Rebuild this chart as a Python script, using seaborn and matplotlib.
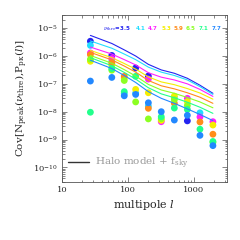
"""Peak-count / power-spectrum cross covariance vs multipole."""

import matplotlib
matplotlib.use("Agg")
import matplotlib.pyplot as plt
import numpy as np
import pandas as pd
import seaborn as sns
from matplotlib.lines import Line2D

NU_THRE = ["3.5", "4.1", "4.7", "5.3", "5.9", "6.5", "7.1", "7.7"]
COLORS = ["#2424f0", "#22ddff", "#ff22ff", "#f5ee00",
          "#ff8c1a", "#8cff22", "#22ff8c", "#2288ff"]

# multipole bin centres (points) and log10 of covariance; nan = not shown
ELL = [27, 57, 88, 131, 204, 320, 505, 795, 1235, 1940]
nan = np.nan
LOG_COV_POINTS = {
    "3.5": [-5.47, -5.98, nan, -6.43, -6.72, nan, nan, -8.33, nan, nan],
    "4.1": [-5.62, -6.20, -7.35, -7.33, -7.80, nan, -7.49, nan, -8.04, nan],
    "4.7": [-5.89, -6.09, nan, nan, -6.83, -8.36, nan, -7.52, -8.19, -8.36],
    "5.3": [-6.19, -6.33, -6.80, -7.20, -7.32, -8.31, -7.44, -7.64, nan, -8.48],
    "5.9": [-5.95, -6.25, -6.73, nan, -7.88, nan, -7.70, nan, -8.37, -8.81],
    "6.5": [-6.12, -6.51, -6.88, -7.65, -8.26, -8.25, -7.57, -7.78, nan, -9.10],
    "7.1": [-8.02, -6.45, -7.28, -6.73, nan, -8.18, -7.87, -7.92, -8.63, -9.07],
    "7.7": [-6.90, -6.77, -7.43, -7.38, -7.68, -8.00, -8.30, -8.13, -8.85, -9.22],
}
# halo model + f_sky curves, log10 at the same multipoles
LOG_COV_MODEL = {
    "3.5": [-5.26, -5.55, -5.78, -6.00, -6.30, -6.50, -6.62, -6.80, -7.05, -7.34],
    "4.1": [-5.46, -5.72, -5.93, -6.13, -6.40, -6.58, -6.70, -6.86, -7.10, -7.38],
    "4.7": [-5.68, -5.93, -6.13, -6.32, -6.60, -6.76, -6.86, -7.00, -7.20, -7.45],
    "5.3": [-5.80, -6.06, -6.27, -6.47, -6.75, -6.93, -7.03, -7.17, -7.33, -7.55],
    "5.9": [-5.87, -6.14, -6.36, -6.58, -6.88, -7.07, -7.18, -7.32, -7.48, -7.70],
    "6.5": [-5.98, -6.26, -6.49, -6.72, -7.02, -7.22, -7.34, -7.49, -7.65, -7.86],
    "7.1": [-6.06, -6.35, -6.59, -6.83, -7.14, -7.36, -7.50, -7.66, -7.84, -8.06],
    "7.7": [-6.15, -6.45, -6.70, -6.95, -7.28, -7.52, -7.70, -7.90, -8.10, -8.32],
}


def long_frame(table):
    rows = []
    for nu, vals in table.items():
        for ell, v in zip(ELL, vals):
            if not np.isnan(v):
                rows.append({"ell": ell, "cov": 10.0 ** v, "nu": nu})
    return pd.DataFrame(rows)


def main():
    sns.set_style("ticks")
    plt.rcParams["font.family"] = ["DejaVu Serif"]
    plt.rcParams["mathtext.fontset"] = "dejavuserif"

    palette = dict(zip(NU_THRE, COLORS))
    pts = long_frame(LOG_COV_POINTS)
    model = long_frame(LOG_COV_MODEL)

    fig = plt.figure(figsize=(2.4, 2.4), dpi=100)
    ax = fig.add_axes([0.258, 0.242, 0.6875, 0.696])

    sns.lineplot(data=model, x="ell", y="cov", hue="nu", hue_order=NU_THRE,
                 palette=palette, lw=0.8, legend=False, ax=ax)
    sns.scatterplot(data=pts, x="ell", y="cov", hue="nu", hue_order=NU_THRE,
                    palette=palette, s=24, linewidth=0, legend=False, ax=ax)

    ax.set_xscale("log")
    ax.set_yscale("log")
    ax.set_xlim(10, 10 ** 3.5)
    ax.set_ylim(3e-11, 3e-5)
    ax.set_yticks([1e-10, 1e-9, 1e-8, 1e-7, 1e-6, 1e-5])
    ax.set_xticks([10, 100, 1000])
    ax.set_xticklabels(["10", "100", "1000"])
    ax.tick_params(which="both", direction="in", top=True, right=True,
                   labelsize=6, width=0.5, color="#555555", pad=3)
    ax.tick_params(which="major", length=3.5)
    ax.tick_params(which="minor", length=1.8)
    for sp in ax.spines.values():
        sp.set_linewidth(0.6)
        sp.set_color("#555555")

    ax.set_xlabel(r"multipole $l$", fontsize=8, labelpad=3)
    ax.set_ylabel(r"Cov[N$_{\rm peak}$($\nu_{\rm thre}$),P$_{\rm p\kappa}$($l$)]",
                  fontsize=7.5, labelpad=2)

    # threshold labels across the top
    ax.text(0.247, 0.916, r"$\nu_{\rm thre}$=3.5", transform=ax.transAxes,
            color=COLORS[0], fontsize=4.0, fontweight="bold",
            family=["DejaVu Sans"], va="center")
    xs = [0.449, 0.521, 0.602, 0.677, 0.752, 0.830, 0.905]
    for x, nu, c in zip(xs, NU_THRE[1:], COLORS[1:]):
        ax.text(x, 0.916, nu, transform=ax.transAxes, color=c, fontsize=4.0,
                fontweight="bold", family=["DejaVu Sans"], va="center")

    handle = Line2D([], [], color="#333333", lw=1.0)
    leg = ax.legend([handle], [r"Halo model + f$_{\rm sky}$"], loc="lower left",
                    bbox_to_anchor=(0.0, 0.03), frameon=False, fontsize=7.5,
                    handlelength=2.0, handletextpad=0.6, borderaxespad=0.2)
    for t in leg.get_texts():
        t.set_color("#999999")

    fig.savefig("out.png", dpi=100)
    plt.close(fig)


if __name__ == "__main__":
    main()
